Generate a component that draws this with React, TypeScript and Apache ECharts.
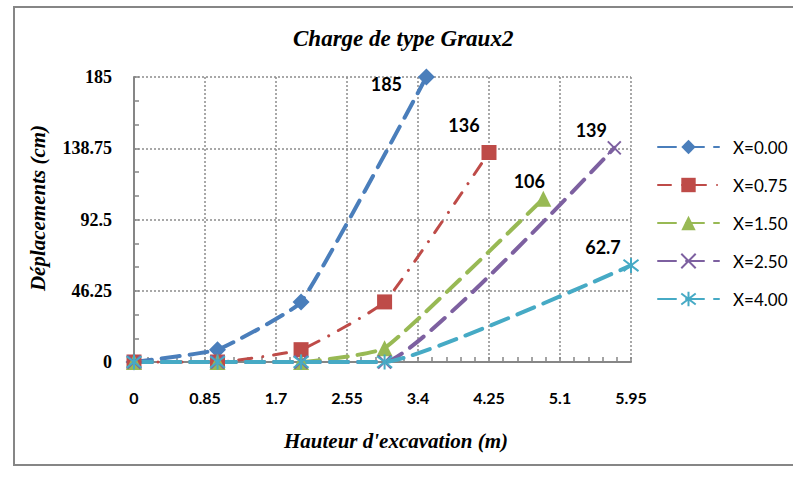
import React, { useEffect, useRef } from "react";
import * as echarts from "echarts";

// ---- data ----
const seriesNames = ["X=0.00", "X=0.75", "X=1.50", "X=2.50", "X=4.00"];
const heights0 = [0, 1, 2, 3.5];
const disp0 = [0, 8, 39, 185];
const heights075 = [0, 1, 2, 3, 4.25];
const disp075 = [0, 0, 8, 39, 136];
const heights150 = [0, 1, 2, 3, 4.9];
const disp150 = [0, 0, 0, 9, 106];
const heights250 = [0, 1, 2, 3, 5.75];
const disp250 = [0, 0, 0, 0, 139];
const heights400 = [0, 1, 2, 3, 5.95];
const disp400 = [0, 0, 0, 0, 62.7];

const xMin = 0;
const xMax = 5.95;
const xStep = 0.85;
const yMin = 0;
const yMax = 185;
const yStep = 46.25;

const titleText = "Charge de type Graux2";
const xName = "Hauteur d'excavation (m)";
const yName = "Déplacements (cm)";

const SERIF = "'Liberation Serif', 'Times New Roman', serif";
const SANS = "Lato, 'Open Sans', sans-serif";

const crossPath = "path://M0,0L10,10M10,0L0,10";
const starPath = "path://M5,0L5,10M1.2,1.2L8.8,8.8M8.8,1.2L1.2,8.8";

function makeSeries(
  name: string,
  xs: number[],
  ys: number[],
  color: string,
  symbol: string,
  symbolSize: number,
  dash: number[],
  width: number,
  labelOffset: number[],
  stroked: boolean
) {
  const data = xs.map((x, i) => {
    const v = [x, ys[i]];
    if (i === xs.length - 1) {
      return {
        value: v,
        label: {
          show: true,
          position: "inside",
          offset: labelOffset,
          formatter: (p: any) => String(p.value[1]),
          color: "#000",
          fontFamily: SANS,
          fontWeight: "bold",
          fontSize: 18,
        },
      };
    }
    return v;
  });
  return {
    type: "line",
    name,
    data,
    smooth: 0.12,
    symbol,
    symbolSize,
    showAllSymbol: true,
    clip: false,
    lineStyle: { color, width, type: dash, cap: "round" },
    itemStyle: stroked
      ? { color: "rgba(0,0,0,0)", borderColor: color, borderWidth: 2 }
      : { color },
    emphasis: { disabled: true },
  };
}

const legendCenters = [147, 185, 223, 261, 299];

export default function App() {
  const ref = useRef<HTMLDivElement>(null);
  useEffect(() => {
    if (!ref.current) return;
    const chart = echarts.init(ref.current, undefined, { renderer: "svg" });
    const series = [
      makeSeries(seriesNames[0], heights0, disp0, "#4A7EBB", "diamond", 17, [18, 10], 4, [-40, 7], false),
      makeSeries(seriesNames[1], heights075, disp075, "#BE4B48", "rect", 15, [13, 11, 0.01, 11], 3, [-25, -27], false),
      makeSeries(seriesNames[2], heights150, disp150, "#98B954", "triangle", 16, [18, 10], 4, [-14, -18], false),
      makeSeries(seriesNames[3], heights250, disp250, "#7D60A0", crossPath, 13, [18, 10], 4, [-23, -18], true),
      makeSeries(seriesNames[4], heights400, disp400, "#46AAC5", starPath, 15, [18, 10], 4, [-28, -18], true),
    ];
    chart.setOption({
      animation: false,
      backgroundColor: "#fff",
      title: {
        text: titleText,
        left: 293,
        top: 27,
        padding: 0,
        textStyle: {
          fontFamily: SERIF,
          fontStyle: "italic",
          fontWeight: "bold",
          fontSize: 23,
          color: "#000",
        },
      },
      grid: { left: 134, right: 162, top: 77, bottom: 115, containLabel: false },
      xAxis: {
        type: "value",
        min: xMin,
        max: xMax,
        interval: xStep,
        axisLine: { show: true, lineStyle: { color: "#868686", width: 2 } },
        axisTick: { show: true, inside: true, length: 5, lineStyle: { color: "#868686", width: 1.5 } },
        minorTick: { show: true, splitNumber: 5, length: 5, lineStyle: { color: "#868686", width: 1.5 } },
        splitLine: { show: true, lineStyle: { color: "#8C8C8C", width: 1.5, type: [2, 2] } },
        axisLabel: {
          margin: 27,
          color: "#000",
          fontFamily: SANS,
          fontWeight: "bold",
          fontSize: 16,
          formatter: (v: number) => String(Math.round(v * 100) / 100),
        },
      },
      yAxis: {
        type: "value",
        min: yMin,
        max: yMax,
        interval: yStep,
        axisLine: { show: true, lineStyle: { color: "#868686", width: 2 } },
        axisTick: { show: true, inside: true, length: 5, lineStyle: { color: "#868686", width: 1.5 } },
        minorTick: { show: true, splitNumber: 3, length: 5, lineStyle: { color: "#868686", width: 1.5 } },
        splitLine: { show: true, lineStyle: { color: "#8C8C8C", width: 1.5, type: [2, 2] } },
        axisLabel: {
          margin: 22,
          color: "#000",
          fontFamily: SERIF,
          fontWeight: "bold",
          fontSize: 18,
          formatter: (v: number) => String(Math.round(v * 100) / 100),
        },
      },
      legend: seriesNames.map((n, i) => ({
        data: [n],
        left: 657,
        top: legendCenters[i] - 9,
        orient: "vertical",
        itemWidth: 61,
        itemHeight: 18,
        padding: 0,
        selectedMode: false,
        textStyle: {
          fontFamily: SANS,
          fontSize: 17,
          color: "#000",
          lineHeight: 18,
          padding: [0, 0, 0, 9],
        },
      })),
      graphic: [
        {
          type: "rect",
          shape: { x: 14, y: 7, width: 800, height: 458 },
          style: { fill: "none", stroke: "#868686", lineWidth: 2 },
          silent: true,
          z: -10,
        },
        {
          type: "text",
          x: 38,
          y: 208,
          rotation: Math.PI / 2,
          style: {
            text: yName,
            fontFamily: SERIF,
            fontStyle: "italic",
            fontWeight: "bold",
            fontSize: 21,
            fill: "#000",
            textAlign: "center",
            textVerticalAlign: "middle",
          },
        },
        {
          type: "text",
          x: 396,
          y: 441,
          style: {
            text: xName,
            fontFamily: SERIF,
            fontStyle: "italic",
            fontWeight: "bold",
            fontSize: 21,
            fill: "#000",
            textAlign: "center",
            textVerticalAlign: "middle",
          },
        },
      ],
      series,
    });
    return () => chart.dispose();
  }, []);
  return (
    <div
      ref={ref}
      style={{ position: "fixed", left: 0, top: 0, width: 793, height: 477 }}
    />
  );
}
